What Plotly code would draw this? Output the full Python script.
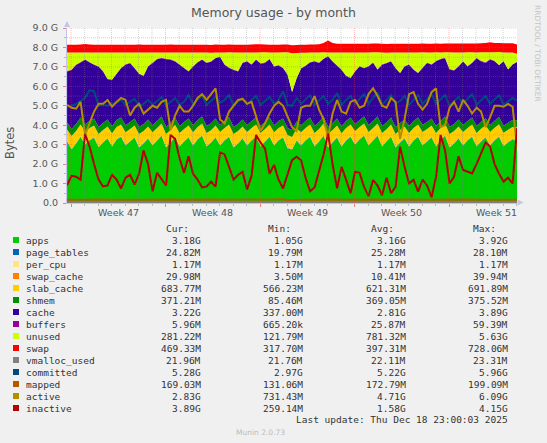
import numpy as np
import pandas as pd
import plotly.graph_objects as go

# ---- Munin "memory" plugin, month view. One sample every 8 h ----
TIMES = pd.date_range('2025-11-15 17:00', periods=101, freq='8h')

# stacked areas, GiB (rows = 3 days of 3 samples)
apps_gib = [3.15,
    2.75, 3.05, 3.40, 3.00, 3.20, 3.35, 2.85, 3.10, 3.30,
    2.90, 3.25, 3.40, 2.95, 3.15, 3.35, 2.85, 3.05, 3.30,
    2.95, 3.20, 3.45, 2.85, 3.10, 3.40, 2.90, 3.15, 3.35,
    2.95, 3.25, 3.45, 2.90, 3.10, 3.35, 2.95, 3.20, 3.40,
    2.85, 3.05, 3.30, 2.95, 3.20, 3.40, 2.90, 3.15, 3.40,
    2.95, 3.20, 3.35, 2.80, 2.75, 3.20, 2.95, 3.20, 3.40,
    2.90, 3.15, 3.45, 2.85, 3.10, 3.35, 2.90, 3.20, 3.40,
    3.00, 3.25, 3.45, 2.95, 3.20, 3.45, 2.90, 3.15, 3.40,
    2.85, 3.10, 3.30, 2.90, 3.20, 3.40, 2.95, 3.15, 3.35,
    2.90, 3.20, 3.45, 2.85, 3.05, 3.30, 2.95, 3.20, 3.40,
    2.90, 3.15, 3.35, 2.95, 3.20, 3.40, 2.90, 3.10, 3.25,
    3.18]
page_tables_mib = [25,
    24, 25, 26, 24, 25, 26, 25, 25, 26,
    24, 25, 27, 25, 25, 26, 24, 25, 26,
    25, 26, 27, 24, 25, 26, 25, 25, 26,
    24, 26, 27, 25, 25, 26, 25, 26, 27,
    24, 25, 26, 25, 26, 27, 24, 25, 26,
    25, 26, 26, 24, 20, 24, 25, 26, 27,
    24, 25, 26, 24, 25, 26, 25, 25, 26,
    25, 26, 27, 25, 26, 27, 24, 25, 26,
    24, 25, 26, 25, 26, 27, 25, 25, 26,
    24, 25, 27, 24, 25, 26, 25, 26, 27,
    24, 25, 26, 25, 26, 27, 24, 25, 26,
    25]
per_cpu_mib = [1.17,
    1.17, 1.17, 1.17, 1.17, 1.17, 1.17, 1.17, 1.17, 1.17,
    1.17, 1.17, 1.17, 1.17, 1.17, 1.17, 1.17, 1.17, 1.17,
    1.17, 1.17, 1.17, 1.17, 1.17, 1.17, 1.17, 1.17, 1.17,
    1.17, 1.17, 1.17, 1.17, 1.17, 1.17, 1.17, 1.17, 1.17,
    1.17, 1.17, 1.17, 1.17, 1.17, 1.17, 1.17, 1.17, 1.17,
    1.17, 1.17, 1.17, 1.17, 1.17, 1.17, 1.17, 1.17, 1.17,
    1.17, 1.17, 1.17, 1.17, 1.17, 1.17, 1.17, 1.17, 1.17,
    1.17, 1.17, 1.17, 1.17, 1.17, 1.17, 1.17, 1.17, 1.17,
    1.17, 1.17, 1.17, 1.17, 1.17, 1.17, 1.17, 1.17, 1.17,
    1.17, 1.17, 1.17, 1.17, 1.17, 1.17, 1.17, 1.17, 1.17,
    1.17, 1.17, 1.17, 1.17, 1.17, 1.17, 1.17, 1.17, 1.17,
    1.17]
swap_cache_mib = [8,
    6, 7, 9, 10, 9, 8, 7, 8, 9,
    8, 9, 10, 9, 8, 9, 10, 11, 9,
    8, 9, 10, 11, 9, 8, 9, 10, 11,
    9, 10, 11, 10, 9, 10, 11, 9, 10,
    9, 10, 11, 12, 10, 9, 10, 11, 10,
    9, 10, 12, 14, 8, 4, 6, 8, 9,
    10, 11, 12, 13, 14, 12, 11, 10, 11,
    12, 11, 10, 11, 12, 13, 12, 11, 10,
    11, 12, 13, 12, 11, 12, 13, 14, 12,
    11, 12, 13, 14, 13, 12, 13, 14, 15,
    16, 18, 20, 22, 24, 26, 27, 28, 29,
    30]
slab_cache_gib = [0.60,
    0.66, 0.62, 0.60, 0.66, 0.62, 0.60, 0.66, 0.62, 0.60,
    0.66, 0.62, 0.60, 0.65, 0.62, 0.60, 0.66, 0.62, 0.60,
    0.66, 0.62, 0.60, 0.66, 0.62, 0.59, 0.66, 0.62, 0.60,
    0.66, 0.62, 0.60, 0.66, 0.61, 0.60, 0.66, 0.62, 0.60,
    0.66, 0.62, 0.60, 0.66, 0.62, 0.60, 0.67, 0.62, 0.60,
    0.66, 0.62, 0.60, 0.66, 0.62, 0.60, 0.66, 0.62, 0.60,
    0.66, 0.62, 0.60, 0.66, 0.62, 0.60, 0.65, 0.62, 0.60,
    0.66, 0.62, 0.60, 0.66, 0.62, 0.60, 0.66, 0.61, 0.60,
    0.66, 0.62, 0.60, 0.66, 0.62, 0.60, 0.66, 0.62, 0.60,
    0.67, 0.62, 0.60, 0.66, 0.62, 0.60, 0.66, 0.62, 0.60,
    0.66, 0.62, 0.60, 0.66, 0.62, 0.60, 0.66, 0.62, 0.60,
    0.66]
shmem_gib = [0.36,
    0.36, 0.36, 0.36, 0.36, 0.36, 0.36, 0.36, 0.36, 0.36,
    0.36, 0.36, 0.36, 0.37, 0.36, 0.36, 0.36, 0.36, 0.36,
    0.36, 0.36, 0.36, 0.36, 0.36, 0.37, 0.36, 0.36, 0.36,
    0.36, 0.36, 0.36, 0.36, 0.36, 0.36, 0.36, 0.36, 0.37,
    0.36, 0.36, 0.36, 0.36, 0.36, 0.36, 0.36, 0.37, 0.36,
    0.36, 0.36, 0.36, 0.36, 0.35, 0.36, 0.36, 0.36, 0.36,
    0.36, 0.36, 0.37, 0.36, 0.36, 0.36, 0.36, 0.36, 0.36,
    0.36, 0.36, 0.36, 0.36, 0.37, 0.36, 0.36, 0.36, 0.36,
    0.36, 0.36, 0.36, 0.36, 0.36, 0.36, 0.37, 0.36, 0.36,
    0.36, 0.36, 0.36, 0.37, 0.36, 0.36, 0.36, 0.36, 0.36,
    0.36, 0.36, 0.36, 0.36, 0.36, 0.37, 0.36, 0.36, 0.36,
    0.36]
cache_gib = [2.62,
    3.04, 3.04, 2.83, 3.31, 3.01, 2.76, 3.11, 2.65, 2.07,
    2.38, 2.37, 2.53, 3.10, 3.03, 2.58, 2.73, 2.47, 2.72,
    3.19, 3.18, 3.00, 3.49, 3.25, 2.88, 3.15, 2.76, 2.42,
    3.01, 2.96, 2.92, 3.24, 3.16, 3.10, 3.50, 2.89, 2.53,
    2.94, 2.70, 2.90, 3.27, 2.89, 2.97, 3.20, 3.03, 3.00,
    3.01, 2.85, 2.58, 2.73, 1.96, 2.22, 2.92, 2.84, 2.83,
    3.32, 3.03, 2.95, 3.63, 3.16, 2.71, 2.89, 2.32, 2.02,
    2.71, 2.75, 2.48, 3.01, 2.98, 2.40, 3.15, 3.03, 2.88,
    3.02, 2.56, 2.72, 3.15, 2.63, 2.28, 2.92, 3.03, 2.76,
    3.32, 3.18, 3.00, 2.94, 2.74, 2.72, 3.27, 2.80, 2.80,
    3.49, 3.11, 2.85, 3.36, 3.06, 2.66, 3.32, 2.73, 2.86,
    3.00]
buffers_mib = [28,
    26, 25, 27, 28, 26, 25, 27, 28, 26,
    25, 27, 28, 26, 25, 27, 28, 26, 25,
    27, 28, 26, 25, 27, 28, 26, 25, 27,
    28, 26, 25, 27, 28, 26, 25, 27, 28,
    26, 25, 27, 28, 26, 25, 27, 28, 26,
    25, 27, 30, 40, 2, 8, 14, 18, 22,
    25, 27, 28, 26, 25, 27, 28, 26, 25,
    27, 28, 26, 25, 27, 28, 26, 25, 27,
    28, 26, 25, 27, 28, 26, 25, 27, 28,
    26, 25, 27, 28, 26, 25, 27, 28, 26,
    25, 27, 28, 26, 24, 20, 15, 10, 8,
    6]
unused_gib = [0.95,
    0.87, 0.61, 0.49, 0.35, 0.49, 0.61, 0.70, 0.95, 1.35,
    1.38, 1.08, 0.79, 0.61, 0.52, 0.79, 1.08, 1.18, 0.70,
    0.52, 0.32, 0.27, 0.32, 0.35, 0.44, 0.61, 0.79, 0.95,
    0.70, 0.49, 0.35, 0.52, 0.44, 0.27, 0.21, 0.61, 0.79,
    0.87, 0.95, 0.52, 0.44, 0.61, 0.35, 0.56, 0.52, 0.32,
    0.70, 0.65, 0.79, 1.13, 1.99, 1.30, 0.79, 0.66, 0.49,
    0.44, 0.52, 0.32, 0.18, 0.44, 0.66, 0.87, 1.18, 1.30,
    0.95, 0.70, 0.79, 0.70, 0.52, 0.87, 0.61, 0.52, 0.44,
    0.79, 1.04, 0.70, 0.61, 0.87, 1.04, 0.79, 0.52, 0.61,
    0.44, 0.32, 0.27, 0.87, 0.91, 0.70, 0.44, 0.70, 0.52,
    0.27, 0.44, 0.52, 0.35, 0.44, 0.66, 0.44, 0.87, 0.61,
    0.42]
swap_gib = [0.40,
    0.40, 0.40, 0.41, 0.43, 0.41, 0.40, 0.40, 0.40, 0.40,
    0.40, 0.40, 0.40, 0.40, 0.40, 0.40, 0.41, 0.40, 0.40,
    0.40, 0.40, 0.40, 0.40, 0.41, 0.40, 0.40, 0.40, 0.40,
    0.40, 0.40, 0.40, 0.40, 0.40, 0.41, 0.40, 0.40, 0.40,
    0.40, 0.40, 0.40, 0.40, 0.41, 0.43, 0.41, 0.40, 0.40,
    0.40, 0.40, 0.40, 0.40, 0.41, 0.41, 0.41, 0.41, 0.41,
    0.41, 0.42, 0.47, 0.62, 0.48, 0.45, 0.45, 0.45, 0.45,
    0.45, 0.45, 0.45, 0.45, 0.45, 0.45, 0.45, 0.45, 0.45,
    0.45, 0.45, 0.45, 0.45, 0.45, 0.45, 0.45, 0.45, 0.45,
    0.45, 0.45, 0.45, 0.45, 0.46, 0.46, 0.46, 0.46, 0.46,
    0.46, 0.47, 0.47, 0.52, 0.47, 0.47, 0.47, 0.47, 0.47,
    0.47]

# plain lines
vmalloc_used_mib = [22.1,
    22.0, 22.1, 22.2, 22.0, 22.1, 22.2, 22.0, 22.1, 22.2,
    22.0, 22.1, 22.2, 22.1, 22.1, 22.2, 22.0, 22.1, 22.2,
    22.1, 22.1, 22.2, 22.0, 22.1, 22.2, 22.1, 22.1, 22.2,
    22.0, 22.1, 22.2, 22.1, 22.1, 22.2, 22.0, 22.1, 22.2,
    22.1, 22.1, 22.2, 22.0, 22.1, 22.2, 22.1, 22.1, 22.2,
    22.0, 22.1, 22.3, 23.0, 21.8, 21.8, 22.0, 22.1, 22.2,
    22.0, 22.1, 22.2, 22.1, 22.1, 22.2, 22.0, 22.1, 22.2,
    22.1, 22.1, 22.2, 22.0, 22.1, 22.2, 22.1, 22.1, 22.2,
    22.0, 22.1, 22.2, 22.1, 22.1, 22.2, 22.0, 22.1, 22.2,
    22.1, 22.1, 22.2, 22.0, 22.1, 22.2, 22.1, 22.1, 22.2,
    22.0, 22.1, 22.2, 22.1, 22.0, 22.0, 22.0, 22.0, 22.0,
    22.0]
committed_gib = [4.95,
    5.00, 5.10, 5.25, 5.40, 5.80, 5.75, 5.00, 5.05, 5.00,
    5.10, 5.15, 5.30, 5.05, 5.20, 5.35, 5.00, 5.10, 5.30,
    5.05, 5.25, 5.45, 5.00, 5.20, 5.40, 5.05, 5.20, 5.55,
    5.10, 5.30, 5.50, 5.05, 5.25, 5.45, 5.15, 5.30, 5.55,
    5.00, 5.20, 5.40, 5.10, 5.30, 5.50, 5.05, 5.25, 5.45,
    5.10, 5.30, 5.75, 5.05, 5.00, 5.40, 5.10, 5.30, 5.55,
    5.05, 5.25, 5.50, 5.10, 5.30, 5.65, 5.05, 5.30, 5.50,
    5.10, 5.35, 5.60, 5.10, 5.40, 5.70, 5.05, 5.30, 5.55,
    5.10, 5.25, 5.50, 5.05, 5.30, 5.55, 5.10, 5.35, 5.60,
    5.10, 5.30, 5.55, 5.00, 5.20, 5.45, 5.10, 5.35, 5.60,
    5.05, 5.30, 5.50, 5.10, 5.35, 5.55, 5.05, 5.25, 5.40,
    5.28]
mapped_mib = [175,
    168, 172, 178, 170, 174, 180, 168, 173, 178,
    170, 175, 181, 169, 173, 179, 168, 172, 177,
    171, 176, 182, 169, 174, 180, 170, 175, 179,
    171, 176, 183, 170, 174, 179, 171, 177, 182,
    169, 173, 178, 171, 176, 181, 170, 175, 180,
    171, 176, 199, 140, 131, 160, 170, 175, 180,
    169, 174, 179, 170, 175, 181, 169, 174, 178,
    171, 176, 182, 170, 175, 181, 169, 174, 179,
    168, 173, 178, 170, 176, 181, 171, 175, 180,
    168, 172, 177, 171, 176, 181, 169, 174, 179,
    170, 175, 180, 171, 176, 181, 169, 172, 175,
    169]
active_gib = [5.05,
    4.90, 4.85, 5.20, 3.50, 4.10, 4.70, 5.10, 5.10, 5.30,
    4.95, 5.20, 5.40, 5.30, 4.50, 4.90, 5.10, 4.60, 4.80,
    5.00, 4.90, 5.20, 5.30, 3.75, 4.50, 5.00, 4.70, 4.70,
    5.00, 5.40, 5.60, 5.30, 5.60, 5.90, 4.30, 4.10, 4.70,
    5.00, 5.30, 5.35, 5.10, 5.20, 4.50, 3.70, 4.10, 4.60,
    5.00, 5.20, 5.00, 4.40, 3.90, 3.70, 4.90, 5.00, 5.00,
    5.50, 4.80, 4.30, 3.40, 4.60, 5.30, 4.70, 4.60, 5.20,
    5.30, 4.90, 5.00, 5.60, 5.90, 5.50, 5.00, 4.90, 5.40,
    5.20, 3.30, 4.30, 5.60, 5.70, 5.10, 4.80, 5.10, 5.70,
    5.90, 3.90, 4.00, 4.90, 5.20, 4.70, 5.30, 5.00, 4.60,
    4.90, 4.70, 3.90, 4.40, 5.00, 5.00, 4.95, 5.10, 4.95,
    2.85]
inactive_gib = [0.92,
    1.40, 1.35, 1.20, 3.55, 2.90, 2.00, 1.20, 0.85, 0.90,
    1.45, 1.20, 0.75, 1.30, 1.45, 0.95, 1.50, 2.70, 2.00,
    0.60, 1.55, 1.20, 0.90, 3.50, 3.30, 2.30, 1.55, 2.40,
    1.50, 1.20, 0.80, 0.85, 1.10, 0.85, 2.60, 2.50, 1.86,
    1.20, 1.45, 1.60, 0.70, 1.40, 3.50, 3.10, 2.80, 1.50,
    1.96, 1.20, 0.75, 1.50, 2.20, 2.38, 2.20, 1.30, 0.60,
    0.80, 1.65, 2.50, 3.58, 2.00, 0.75, 1.86, 1.20, 0.50,
    1.60, 1.55, 0.83, 0.35, 1.18, 0.90, 0.40, 1.30, 0.50,
    0.83, 2.90, 1.86, 1.00, 1.20, 0.58, 1.20, 0.90, 0.30,
    1.35, 3.50, 2.70, 1.00, 1.35, 2.40, 1.70, 1.60, 1.52,
    2.00, 2.60, 3.10, 2.90, 2.00, 1.50, 1.10, 1.30, 1.00,
    3.85]

# legend table (as printed under the graph)
LEGEND_NAMES = ['apps', 'page_tables', 'per_cpu', 'swap_cache', 'slab_cache', 'shmem',
                'cache', 'buffers', 'unused', 'swap', 'vmalloc_used', 'committed',
                'mapped', 'active', 'inactive']
LEGEND_COLORS = ['#00CC00', '#0066B3', '#FFE680', '#FF8000', '#FFCC00', '#008F00',
                 '#330099', '#990099', '#CCFF00', '#FF0000', '#808080', '#00487D',
                 '#B35A00', '#B38F00', '#B30000']
CUR = ['3.18G', '24.82M', '1.17M', '29.98M', '683.77M', '371.21M', '3.22G', '5.96M',
       '281.22M', '469.33M', '21.96M', '5.28G', '169.03M', '2.83G', '3.89G']
MIN = ['1.05G', '19.79M', '1.17M', '3.50M', '566.23M', '85.46M', '337.00M', '665.20k',
       '121.79M', '317.70M', '21.76M', '2.97G', '131.06M', '731.43M', '259.14M']
AVG = ['3.16G', '25.28M', '1.17M', '10.41M', '621.31M', '369.05M', '2.81G', '25.87M',
       '781.32M', '397.31M', '22.11M', '5.22G', '172.79M', '4.71G', '1.58G']
MAX = ['3.92G', '28.10M', '1.17M', '39.94M', '691.89M', '375.52M', '3.89G', '59.39M',
       '5.63G', '728.06M', '23.31M', '5.96G', '199.09M', '6.09G', '4.15G']

Y_TICKS = [0, 1, 2, 3, 4, 5, 6, 7, 8, 9]
Y_TICKTEXT = ['0.0', '1.0 G', '2.0 G', '3.0 G', '4.0 G', '5.0 G', '6.0 G', '7.0 G', '8.0 G', '9.0 G']
WEEK_STARTS = ['2025-11-16', '2025-11-23', '2025-11-30', '2025-12-07', '2025-12-14']
WEEK_MIDS = ['2025-11-19 12:00', '2025-11-26 12:00', '2025-12-03 12:00',
             '2025-12-10 12:00', '2025-12-17 12:00']
WEEK_LABELS = ['Week 47', 'Week 48', 'Week 49', 'Week 50', 'Week 51']

# ---- geometry, in pixels of the 547x443 page ----
W, H = 547, 443
L, R, T, B = 67, 517, 28, 203
MONO = 'DejaVu Sans Mono'
SANS = 'DejaVu Sans'
MGRID = 'rgba(255,60,60,0.35)'
GRID = 'rgba(130,130,130,0.35)'
AXIS = '#C4C4E8'


def px(x):
    return (x - L) / (R - L)


def py(y):
    return (B - y) / (B - T)


mib = lambda vals: [v / 1024 for v in vals]

stack = [('apps', apps_gib), ('page_tables', mib(page_tables_mib)),
         ('per_cpu', mib(per_cpu_mib)), ('swap_cache', mib(swap_cache_mib)),
         ('slab_cache', slab_cache_gib), ('shmem', shmem_gib), ('cache', cache_gib),
         ('buffers', mib(buffers_mib)), ('unused', unused_gib), ('swap', swap_gib)]
lines = [('vmalloc_used', mib(vmalloc_used_mib)), ('committed', committed_gib),
         ('mapped', mib(mapped_mib)), ('active', active_gib), ('inactive', inactive_gib)]
colour = dict(zip(LEGEND_NAMES, LEGEND_COLORS))

fig = go.Figure()
for name, vals in stack:
    fig.add_trace(go.Scatter(x=TIMES, y=vals, name=name, stackgroup='mem', mode='none',
                             fillcolor=colour[name], hoverinfo='skip'))
for name, vals in lines:
    fig.add_trace(go.Scatter(x=TIMES, y=vals, name=name, mode='lines',
                             line=dict(color=colour[name], width=2), hoverinfo='skip'))

shapes = []
# rrdtool draws its dotted grid over the areas
for d in pd.date_range('2025-11-16', '2025-12-18', freq='D'):
    c = MGRID if d.dayofweek == 6 else GRID
    shapes.append(dict(type='line', xref='x', yref='paper', x0=d.strftime('%Y-%m-%d'),
                       x1=d.strftime('%Y-%m-%d'), y0=0, y1=1, layer='above',
                       line=dict(color=c, width=1, dash='1px,1px')))
for v in np.arange(0.5, 9.01, 0.5):
    c = MGRID if float(v).is_integer() else GRID
    shapes.append(dict(type='line', xref='paper', yref='y', x0=0, x1=1, y0=v, y1=v,
                       layer='above', line=dict(color=c, width=1, dash='1px,1px')))
# axis arrows
shapes.append(dict(type='path', xref='paper', yref='paper', fillcolor=AXIS, line=dict(width=0),
                   path=f'M {px(64)},{py(27)} L {px(70)},{py(27)} L {px(67)},{py(21)} Z'))
shapes.append(dict(type='path', xref='paper', yref='paper', fillcolor=AXIS, line=dict(width=0),
                   path=f'M {px(517.5)},{py(199.5)} L {px(517.5)},{py(205.5)} L {px(523.5)},{py(202.5)} Z'))

ann = []


def text(x, y, s, anchor='left', size=9.5, color='#333333', family=MONO, **kw):
    ann.append(dict(x=px(x), y=py(y), xref='paper', yref='paper', text=s, showarrow=False,
                    xanchor=anchor, yanchor='middle', borderpad=0,
                    font=dict(family=family, size=size, color=color), **kw))


text(273.5, 12, 'Memory usage - by month', 'center', 12.5, '#555555', SANS)
text(10, 143, 'Bytes', 'center', 11.5, '#555555', SANS, textangle=-90)
text(537.5, 53.5, 'RRDTOOL / TOBI OETIKER', 'center', 7.5, '#C4C4C4', SANS, textangle=90)
for wx, wl in zip(WEEK_MIDS, WEEK_LABELS):
    ann.append(dict(x=wx, y=py(212.5), xref='x', yref='paper', text=wl, showarrow=False,
                    xanchor='center', yanchor='middle',
                    font=dict(family=SANS, size=9.5, color='#555555')))

COLS = [202, 304, 407, 509]
for cx, head in zip(COLS, ['Cur:', 'Min:', 'Avg:', 'Max:']):
    text(cx - 12.5, 228, head, 'right')
for k, name in enumerate(LEGEND_NAMES):
    ry = 240 + 12 * k
    shapes.append(dict(type='rect', xref='paper', yref='paper', x0=px(13), x1=px(19),
                       y0=py(ry + 3), y1=py(ry - 3), fillcolor=LEGEND_COLORS[k],
                       line=dict(width=0)))
    text(25, ry, name)
    for cx, col in zip(COLS, [CUR, MIN, AVG, MAX]):
        text(cx, ry, col[k], 'right')
text(509, 419.5, 'Last update: Thu Dec 18 23:00:03 2025', 'right')
text(260.5, 432, 'Munin 2.0.73', 'center', 7.5, '#BBBBBB', SANS)

fig.update_layout(
    width=W, height=H,
    margin=dict(l=L, r=W - R, t=T, b=H - B),
    paper_bgcolor='#F0F0F0', plot_bgcolor='#FFFFFF', showlegend=False,
    font=dict(family=SANS, size=10, color='#555555'),
    shapes=shapes, annotations=ann,
    xaxis=dict(type='date', range=['2025-11-15 16:53', '2025-12-19 00:53'],
               tickmode='array', tickvals=WEEK_STARTS, showticklabels=False,
               ticks='outside', ticklen=3, tickcolor='#F08080', showgrid=False,
               zeroline=False, showline=True, linecolor=AXIS, linewidth=1,
               layer='above traces',
               minor=dict(tickmode='linear', tick0='2025-11-16', dtick=86400000,
                          ticks='outside', ticklen=2, tickcolor='#BBBBBB', showgrid=False)),
    yaxis=dict(range=[0, 9], tickmode='array', tickvals=Y_TICKS, ticktext=Y_TICKTEXT,
               ticks='outside', ticklen=3, tickcolor='#F08080', showgrid=False,
               zeroline=False, showline=True, linecolor=AXIS, linewidth=1,
               layer='above traces', tickfont=dict(size=9.5, color='#555555'),
               ticklabelstandoff=3,
               minor=dict(dtick=0.5, ticks='outside', ticklen=2, tickcolor='#BBBBBB',
                          showgrid=False)),
)

# drop the browser's default 8px body margin so the figure fills the page exactly
fig.write_html('out.html', config={'displayModeBar': False},
               post_script="document.body.style.margin='0';")
